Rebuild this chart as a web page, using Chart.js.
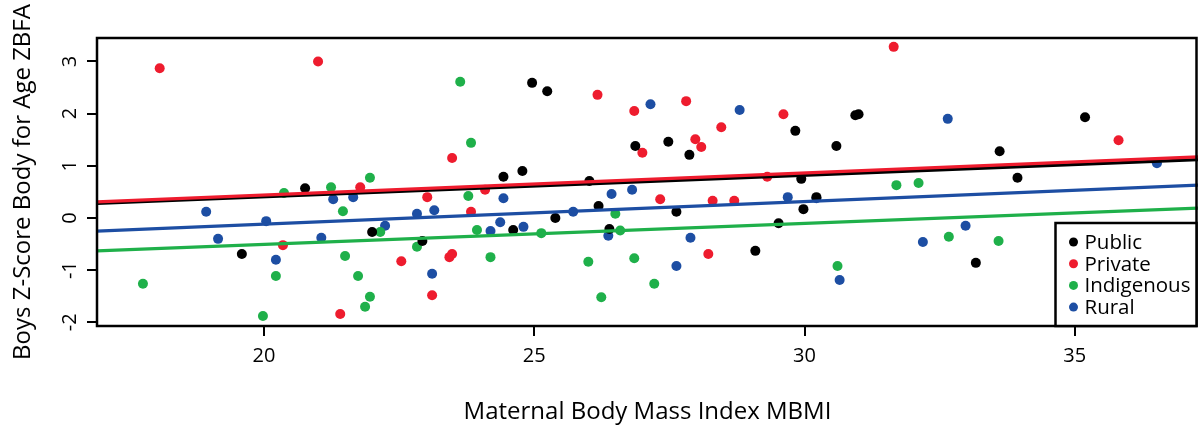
<!DOCTYPE html>
<html>
<head>
<meta charset="utf-8">
<script src="https://cdn.jsdelivr.net/npm/chart.js@4.4.0/dist/chart.umd.min.js"></script>
<style>
  html, body { margin: 0; padding: 0; background: #fff; }
  #wrap { width: 1198px; height: 439px; position: relative; }
</style>
</head>
<body>
<div id="wrap"><canvas id="chart"></canvas></div>
<script>
// Maternal BMI (x) vs boys' ZBFA (y)
const publicX = [19.59, 20.76, 22.0, 22.93, 24.43, 24.78, 24.61, 25.39, 26.02, 26.19, 26.39, 24.96, 25.24, 26.87, 27.48, 27.87, 29.83, 30.59, 30.94, 31.0, 27.63, 29.09, 29.98, 30.22, 29.94, 29.52, 33.61, 35.19, 33.94, 33.17];
const publicY = [-0.69, 0.57, -0.27, -0.44, 0.79, 0.90, -0.23, 0.0, 0.71, 0.23, -0.21, 2.59, 2.43, 1.38, 1.46, 1.21, 1.67, 1.38, 1.97, 1.99, 0.12, -0.63, 0.17, 0.40, 0.75, -0.10, 1.28, 1.93, 0.77, -0.86];

const privateX = [18.07, 21.0, 21.78, 20.35, 21.41, 23.48, 26.17, 26.85, 27.0, 23.02, 24.09, 23.83, 22.54, 23.43, 23.48, 23.11, 27.81, 27.98, 28.09, 28.46, 29.61, 31.65, 27.33, 28.30, 28.70, 28.22, 29.31, 35.81];
const privateY = [2.87, 3.0, 0.59, -0.52, -1.84, 1.15, 2.36, 2.05, 1.25, 0.40, 0.54, 0.12, -0.83, -0.75, -0.69, -1.48, 2.24, 1.51, 1.36, 1.74, 1.99, 3.28, 0.36, 0.33, 0.33, -0.69, 0.79, 1.49];

const indigenousX = [17.76, 19.98, 20.22, 20.37, 21.24, 21.46, 21.5, 21.74, 21.96, 21.87, 21.96, 23.63, 23.83, 22.15, 22.83, 23.78, 23.94, 24.19, 25.13, 26.0, 26.24, 26.5, 26.59, 26.85, 27.22, 30.61, 31.70, 32.11, 32.67, 33.59];
const indigenousY = [-1.26, -1.88, -1.11, 0.48, 0.59, 0.13, -0.73, -1.11, -1.51, -1.70, 0.77, 2.61, 1.44, -0.27, -0.55, 0.42, -0.23, -0.75, -0.29, -0.84, -1.52, 0.08, -0.24, -0.77, -1.26, -0.92, 0.63, 0.67, -0.36, -0.44];

const ruralX = [18.93, 19.15, 20.04, 20.22, 21.06, 21.28, 21.65, 22.24, 22.83, 23.15, 23.11, 24.19, 24.37, 24.43, 24.8, 25.72, 26.37, 26.43, 26.81, 27.15, 28.80, 27.89, 27.63, 29.69, 30.22, 30.65, 32.65, 36.52, 32.19, 32.98];
const ruralY = [0.12, -0.40, -0.06, -0.80, -0.38, 0.36, 0.40, -0.15, 0.08, 0.15, -1.07, -0.25, -0.08, 0.38, -0.17, 0.12, -0.34, 0.46, 0.54, 2.18, 2.07, -0.38, -0.92, 0.40, 0.38, -1.19, 1.90, 1.05, -0.46, -0.15];

// fitted lines: value at left and right edge of the plot
const fitX = [16.91, 37.28];
const publicFit = [0.28, 1.12];
const privateFit = [0.31, 1.17];
const indigenousFit = [-0.63, 0.19];
const ruralFit = [-0.25, 0.63];

const xTicks = [20, 25, 30, 35];
const yTicks = [-2, -1, 0, 1, 2, 3];

const groups = ['Public', 'Private', 'Indigenous', 'Rural'];
const colors = ['#000000', '#ee1c2e', '#1fb04a', '#1d4ea3'];

const FONT = "'Open Sans', 'DejaVu Sans', sans-serif";

function pts(xs, ys) {
    return xs.map((x, i) => ({ x: x, y: ys[i] }));
}

const lineSets = [
    { fit: privateFit, c: colors[1] },
    { fit: publicFit, c: colors[0] },
    { fit: ruralFit, c: colors[3] },
    { fit: indigenousFit, c: colors[2] }
].map(l => ({
    type: 'line',
    data: pts(fitX, l.fit),
    borderColor: l.c,
    borderWidth: 3.2,
    pointRadius: 0,
    fill: false
}));

const scatterSets = [
    [publicX, publicY, colors[0]],
    [privateX, privateY, colors[1]],
    [indigenousX, indigenousY, colors[2]],
    [ruralX, ruralY, colors[3]]
].map(s => ({
    type: 'scatter',
    data: pts(s[0], s[1]),
    backgroundColor: s[2],
    borderColor: s[2],
    borderWidth: 0,
    pointRadius: 5
}));

// box around plot, rotated y labels, legend inside bottom right
const decor = {
    id: 'decor',
    afterDraw(chart) {
        const ctx = chart.ctx;
        const a = chart.chartArea;
        ctx.save();
        ctx.strokeStyle = '#000';
        ctx.lineWidth = 2.5;
        ctx.strokeRect(a.left, a.top, a.right - a.left - 1.5, a.bottom - a.top);

        // y tick labels, parallel to the axis
        const ys = chart.scales.y;
        ctx.fillStyle = '#000';
        ctx.font = '20px ' + FONT;
        ctx.textAlign = 'center';
        ctx.textBaseline = 'middle';
        yTicks.forEach(v => {
            ctx.save();
            ctx.translate(70, ys.getPixelForValue(v));
            ctx.rotate(-Math.PI / 2);
            ctx.fillText(String(v), 0, 0);
            ctx.restore();
        });

        // legend
        const lw = 141, lh = 103;
        const lx = a.right - 1.5 - lw, ly = a.bottom - lh;
        ctx.fillStyle = '#fff';
        ctx.fillRect(lx, ly, lw, lh);
        ctx.strokeRect(lx, ly, lw, lh);
        ctx.font = '20.5px ' + FONT;
        ctx.textAlign = 'left';
        groups.forEach((g, i) => {
            const cy = ly + 19 + i * 21.7;
            ctx.fillStyle = colors[i];
            ctx.beginPath();
            ctx.arc(lx + 18, cy, 4.5, 0, Math.PI * 2);
            ctx.fill();
            ctx.fillStyle = '#000';
            ctx.fillText(g, lx + 29, cy + 1);
        });
        ctx.restore();
    }
};

new Chart(document.getElementById('chart'), {
    data: { datasets: lineSets.concat(scatterSets) },
    options: {
        responsive: true,
        maintainAspectRatio: false,
        animation: false,
        layout: { autoPadding: false, padding: { top: 38, right: 0, left: 0, bottom: 0 } },
        plugins: {
            legend: { display: false },
            tooltip: { enabled: false }
        },
        scales: {
            x: {
                type: 'linear',
                min: 16.91,
                max: 37.28,
                afterBuildTicks: s => { s.ticks = xTicks.map(v => ({ value: v })); },
                afterFit: s => { s.height = 113; },
                border: { display: false },
                grid: { drawOnChartArea: false, drawTicks: true, tickLength: 10, color: '#000', lineWidth: 2 },
                ticks: { color: '#000', font: { family: FONT, size: 20 }, padding: 8, maxRotation: 0 },
                title: {
                    display: true,
                    text: 'Maternal Body Mass Index MBMI',
                    color: '#000',
                    font: { family: FONT, size: 24 },
                    padding: { top: 0, bottom: 12 }
                }
            },
            y: {
                type: 'linear',
                min: -2.07,
                max: 3.45,
                afterBuildTicks: s => { s.ticks = yTicks.map(v => ({ value: v })); },
                afterFit: s => { s.width = 97; },
                border: { display: false },
                grid: { drawOnChartArea: false, drawTicks: true, tickLength: 10, color: '#000', lineWidth: 2 },
                ticks: { display: false },
                title: {
                    display: true,
                    text: 'Boys Z-Score Body for Age ZBFA',
                    color: '#000',
                    font: { family: FONT, size: 24 },
                    padding: { top: 9, bottom: 0 }
                }
            }
        }
    },
    plugins: [decor]
});
</script>
</body>
</html>
